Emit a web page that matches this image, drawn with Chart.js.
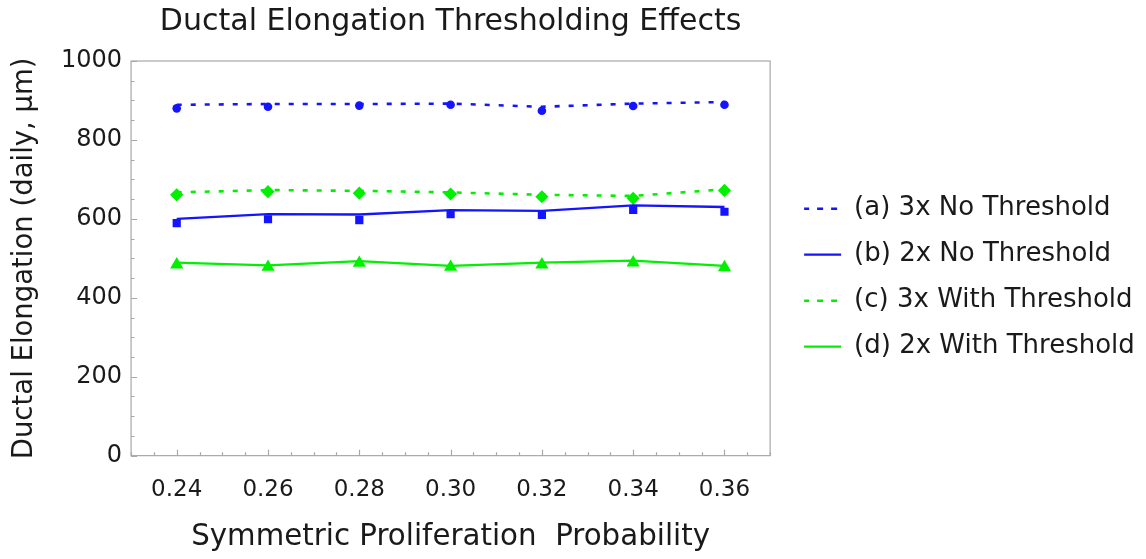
<!DOCTYPE html>
<html><head><meta charset="utf-8">
<script src="https://cdn.jsdelivr.net/npm/chart.js@4.4.0/dist/chart.umd.min.js"></script>
<style>html,body{margin:0;padding:0;background:#fff}#wrap{width:1146px;height:559px}</style>
</head><body><div id="wrap"><canvas id="c" width="1146" height="559"></canvas></div>
<script>
const probabilities = [0.24, 0.26, 0.28, 0.30, 0.32, 0.34, 0.36];
const xTickLabels = ['0.24', '0.26', '0.28', '0.30', '0.32', '0.34', '0.36'];
const yTickValues = [0, 200, 400, 600, 800, 1000];
const seriesLabels = ['(a) 3x No Threshold', '(b) 2x No Threshold', '(c) 3x With Threshold', '(d) 2x With Threshold'];
const lineA = [889, 891, 891, 892, 884, 892, 896];
const markA = [880, 884, 887, 889, 874, 886, 889];
const lineB = [600, 612, 611, 622, 620, 634, 630];
const markB = [589, 599, 597, 612, 610, 623, 618];
const lineC = [667, 673, 671, 667, 661, 658, 675];
const markC = [661, 669, 665, 663, 656, 652, 672];
const lineD = [489, 482, 493, 481, 489, 494, 481];
const markD = [484, 478, 488, 478, 484, 489, 477];

const BLUE = '#1414ff';
const GREEN = '#00f000';
const FONT = 'DejaVu Sans';
const TEXT = '#1a1a1a';

const pts = arr => arr.map((v, i) => ({x: probabilities[i], y: v}));

function lineSet(label, vals, color, dash) {
  return {label, data: pts(vals), borderColor: color, backgroundColor: 'rgba(0,0,0,0)',
    borderWidth: dash ? 2.6 : 2.3, borderDash: dash || [], pointRadius: 0, showLine: true, tension: 0};
}
function markSet(label, vals, color, style, r) {
  return {label, data: pts(vals), borderColor: color, backgroundColor: color, showLine: false,
    pointStyle: style, pointRadius: r, pointBorderWidth: 0, pointHoverRadius: r};
}

const frameTicks = {
  id: 'frameTicks',
  beforeDatasetsDraw(chart) {
    const {ctx, chartArea: a, scales: {x, y}} = chart;
    ctx.save();
    ctx.strokeStyle = '#a8a8a8';
    ctx.lineWidth = 1.2;
    ctx.strokeRect(a.left, a.top, a.right - a.left, a.bottom - a.top);
    ctx.beginPath();
    for (let k = 0; k <= 28; k++) {
      const v = x.min + k * 0.005;
      const major = k % 4 === 2;
      const px = Math.round(x.getPixelForValue(v)) + 0.5;
      ctx.moveTo(px, a.bottom);
      ctx.lineTo(px, a.bottom - (major ? 6 : 3.5));
    }
    for (let k = 0; k <= 20; k++) {
      const v = k * 50;
      const major = k % 4 === 0;
      const py = Math.round(y.getPixelForValue(v)) + 0.5;
      ctx.moveTo(a.left, py);
      ctx.lineTo(a.left + (major ? 6 : 3.5), py);
    }
    ctx.stroke();
    ctx.restore();
  }
};

new Chart(document.getElementById('c'), {
  type: 'line',
  data: {
    datasets: [
      lineSet(seriesLabels[0], lineA, BLUE, [5, 9]),
      lineSet(seriesLabels[1], lineB, BLUE, null),
      lineSet(seriesLabels[2], lineC, GREEN, [5, 9]),
      lineSet(seriesLabels[3], lineD, GREEN, null),
      markSet('a markers', markA, BLUE, 'circle', 4.3),
      markSet('b markers', markB, BLUE, 'rect', 5.8),
      markSet('c markers', markC, GREEN, 'rectRot', 6.6),
      markSet('d markers', markD, GREEN, 'triangle', 7.6)
    ]
  },
  options: {
    responsive: false,
    animation: false,
    devicePixelRatio: 1,
    layout: {padding: {left: 8, right: 1.2, top: 0, bottom: 3.6}},
    scales: {
      x: {
        type: 'linear', min: 0.23, max: 0.37,
        afterBuildTicks: s => { s.ticks = probabilities.map(v => ({value: v})); },
        grid: {display: false, drawTicks: false},
        border: {display: false},
        ticks: {padding: 20.4, color: TEXT, font: {family: FONT, size: 23},
          callback: (v, i) => xTickLabels[i]},
        title: {display: true, text: 'Symmetric Proliferation  Probability', color: TEXT,
          font: {family: FONT, size: 29.3}, padding: {top: -3.8, bottom: 0}}
      },
      y: {
        min: 0, max: 1000,
        afterBuildTicks: s => { s.ticks = yTickValues.map(v => ({value: v})); },
        grid: {display: false, drawTicks: false},
        border: {display: false},
        ticks: {padding: 9, color: TEXT, font: {family: FONT, size: 24}, callback: v => String(v)},
        title: {display: true, text: 'Ductal Elongation (daily, μm)', color: TEXT,
          font: {family: FONT, size: 27.5}, padding: {top: 0, bottom: 11}}
      },
      gap: {
        type: 'linear', position: 'right', display: true,
        grid: {display: false, drawTicks: false}, border: {display: false},
        ticks: {display: false},
        afterFit: s => { s.width = 14; }
      }
    },
    plugins: {
      title: {display: true, fullSize: false, text: 'Ductal Elongation Thresholding Effects', color: TEXT,
        font: {family: FONT, size: 30, weight: 'normal'}, padding: {top: 4, bottom: 21}},
      legend: {
        position: 'right', align: 'center', maxWidth: 420,
        labels: {
          filter: item => item.datasetIndex < 4,
          boxWidth: 37, boxHeight: 0, padding: 20, color: TEXT,
          font: {family: FONT, size: 26}
        }
      },
      tooltip: {enabled: false}
    }
  },
  plugins: [frameTicks]
});
</script></body></html>
